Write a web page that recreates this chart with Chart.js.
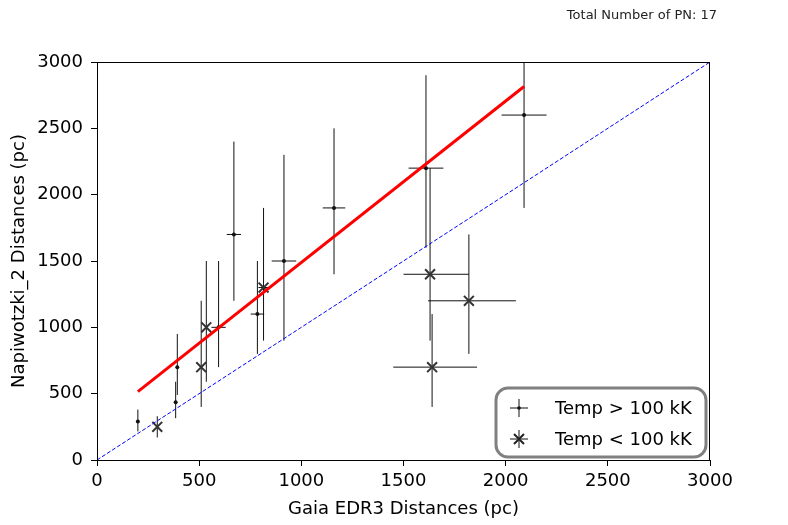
<!DOCTYPE html>
<html>
<head>
<meta charset="utf-8">
<script src="https://cdn.jsdelivr.net/npm/chart.js@4.4.0/dist/chart.umd.min.js"></script>
<style>
  html, body { margin: 0; padding: 0; background: #fff; }
  #wrap { width: 788px; height: 525px; }
</style>
</head>
<body>
<div id="wrap"><canvas id="pnChart" width="788" height="525"></canvas></div>
<script>
// Temp > 100 kK
const hotX      = [200, 385, 393, 595, 670, 785, 915, 1160, 1610, 2090];
const hotY      = [290, 435, 700, 1000, 1700, 1100, 1500, 1900, 2200, 2600];
const hotXErr   = [0, 0, 0, 35, 35, 33, 60, 55, 85, 110];
const hotYErrLo = [75, 120, 210, 300, 500, 300, 600, 500, 600, 700];
const hotYErrHi = [90, 155, 250, 500, 700, 400, 800, 600, 700, 700];

// Temp < 100 kK
const coolX      = [295, 510, 535, 815, 1630, 1820, 1640];
const coolY      = [250, 700, 1000, 1300, 1400, 1200, 700];
const coolXErrLo = [0, 0, 0, 25, 130, 200, 190];
const coolXErrHi = [0, 0, 0, 25, 190, 230, 220];
const coolYErrLo = [80, 300, 410, 400, 500, 400, 300];
const coolYErrHi = [80, 500, 500, 600, 800, 500, 400];

// fit line and 1:1 line
const fitX = [200, 2090];
const fitY = [515, 2815];
const unityX = [0, 3000];
const unityY = [0, 3000];

const axisTicks = [0, 500, 1000, 1500, 2000, 2500, 3000];
const legendLabels = ["Temp > 100 kK", "Temp < 100 kK"];

const FONT = "'DejaVu Sans', sans-serif";
const toPts = (xs, ys) => xs.map((x, i) => ({ x, y: ys[i] }));

const errorBars = {
  id: "errorBars",
  beforeDatasetsDraw(chart) {
    const { ctx, chartArea: a, scales: { x, y } } = chart;
    ctx.save();
    ctx.beginPath();
    ctx.rect(a.left, a.top, a.right - a.left, a.bottom - a.top);
    ctx.clip();
    ctx.strokeStyle = "#111";
    ctx.lineWidth = 1;
    chart.data.datasets.forEach(ds => {
      if (!ds.err) return;
      ds.data.forEach((p, i) => {
        const px = x.getPixelForValue(p.x), py = y.getPixelForValue(p.y);
        ctx.beginPath();
        ctx.moveTo(px, y.getPixelForValue(p.y - ds.err.yLo[i]));
        ctx.lineTo(px, y.getPixelForValue(p.y + ds.err.yHi[i]));
        if (ds.err.xLo[i] || ds.err.xHi[i]) {
          ctx.moveTo(x.getPixelForValue(p.x - ds.err.xLo[i]), py);
          ctx.lineTo(x.getPixelForValue(p.x + ds.err.xHi[i]), py);
        }
        ctx.stroke();
      });
    });
    ctx.restore();
  }
};

const frameAndLegend = {
  id: "frameAndLegend",
  afterDraw(chart) {
    const { ctx, chartArea: a } = chart;
    ctx.save();
    ctx.strokeStyle = "#000";
    ctx.lineWidth = 1;
    ctx.strokeRect(a.left + 0.5, a.top + 0.5, a.right - a.left - 1, a.bottom - a.top);

    // top-right note
    ctx.fillStyle = "#222";
    ctx.font = "13px " + FONT;
    ctx.textAlign = "right";
    ctx.textBaseline = "middle";
    ctx.fillText("Total Number of PN: " + (hotX.length + coolX.length), 717, 16);

    // legend box
    const bx = 496, by = 388, bw = 210, bh = 69;
    ctx.strokeStyle = "#808080";
    ctx.lineWidth = 3;
    ctx.fillStyle = "rgba(255,255,255,0.8)";
    ctx.beginPath();
    ctx.roundRect(bx, by, bw, bh, 12);
    ctx.fill();
    ctx.stroke();

    const mx = 519, rows = [408, 439];
    ctx.strokeStyle = "#111";
    ctx.lineWidth = 1;
    rows.forEach((ry, k) => {
      ctx.strokeStyle = "#111";
      ctx.lineWidth = 1;
      ctx.beginPath();
      ctx.moveTo(mx - 9, ry); ctx.lineTo(mx + 9, ry);
      ctx.moveTo(mx, ry - 9); ctx.lineTo(mx, ry + 9);
      ctx.stroke();
      if (k === 0) {
        ctx.fillStyle = "#111";
        ctx.beginPath(); ctx.arc(mx, ry, 1.8, 0, Math.PI * 2); ctx.fill();
      } else {
        ctx.strokeStyle = "#222";
        ctx.lineWidth = 2;
        ctx.beginPath();
        ctx.moveTo(mx - 5, ry - 5); ctx.lineTo(mx + 5, ry + 5);
        ctx.moveTo(mx - 5, ry + 5); ctx.lineTo(mx + 5, ry - 5);
        ctx.stroke();
      }
    });
    ctx.fillStyle = "#000";
    ctx.font = "18px " + FONT;
    ctx.textAlign = "left";
    legendLabels.forEach((t, k) => ctx.fillText(t, 555, rows[k] + 1));
    ctx.restore();
  }
};

const axisCommon = {
  type: "linear",
  min: 0,
  max: 3000,
  border: { display: false },
  grid: { display: true, drawOnChartArea: false, drawTicks: true, tickLength: 6, color: "#000" },
  afterBuildTicks: s => { s.ticks = axisTicks.map(v => ({ value: v })); }
};

new Chart(document.getElementById("pnChart"), {
  type: "scatter",
  data: {
    datasets: [
      {
        label: "fit",
        type: "line",
        data: toPts(fitX, fitY),
        borderColor: "#ff0000",
        borderWidth: 3,
        pointRadius: 0,
        order: 1
      },
      {
        label: "1:1",
        type: "line",
        data: toPts(unityX, unityY),
        borderColor: "#0000ff",
        borderWidth: 1,
        borderDash: [4, 2],
        pointRadius: 0,
        order: 2
      },
      {
        label: legendLabels[0],
        data: toPts(hotX, hotY),
        pointStyle: "circle",
        pointRadius: 2,
        backgroundColor: "#111",
        borderColor: "#111",
        borderWidth: 0,
        err: { xLo: hotXErr, xHi: hotXErr, yLo: hotYErrLo, yHi: hotYErrHi },
        order: 3
      },
      {
        label: legendLabels[1],
        data: toPts(coolX, coolY),
        pointStyle: "crossRot",
        pointRadius: 7,
        borderColor: "#333",
        borderWidth: 2,
        err: { xLo: coolXErrLo, xHi: coolXErrHi, yLo: coolYErrLo, yHi: coolYErrHi },
        order: 4
      }
    ]
  },
  options: {
    responsive: false,
    animation: false,
    layout: { padding: { left: 0, right: 78, top: 62, bottom: 0 } },
    plugins: { legend: { display: false }, tooltip: { enabled: false } },
    scales: {
      x: {
        ...axisCommon,
        position: "bottom",
        ticks: { color: "#000", font: { family: FONT, size: 18 }, padding: 5, maxRotation: 0,
                 callback: v => String(v) },
        title: { display: true, text: "Gaia EDR3 Distances (pc)", color: "#000",
                 font: { family: FONT, size: 18 }, padding: { top: 0, bottom: 5 } },
        afterFit: s => { s.height = 65; }
      },
      y: {
        ...axisCommon,
        position: "left",
        ticks: { color: "#000", font: { family: FONT, size: 18 }, padding: 8,
                 callback: v => String(v) },
        title: { display: true, text: "Napiwotzki_2 Distances (pc)", color: "#000",
                 font: { family: FONT, size: 18 }, padding: { top: 9, bottom: 0 } },
        afterFit: s => { s.width = 97; }
      }
    }
  },
  plugins: [errorBars, frameAndLegend]
});
</script>
</body>
</html>
